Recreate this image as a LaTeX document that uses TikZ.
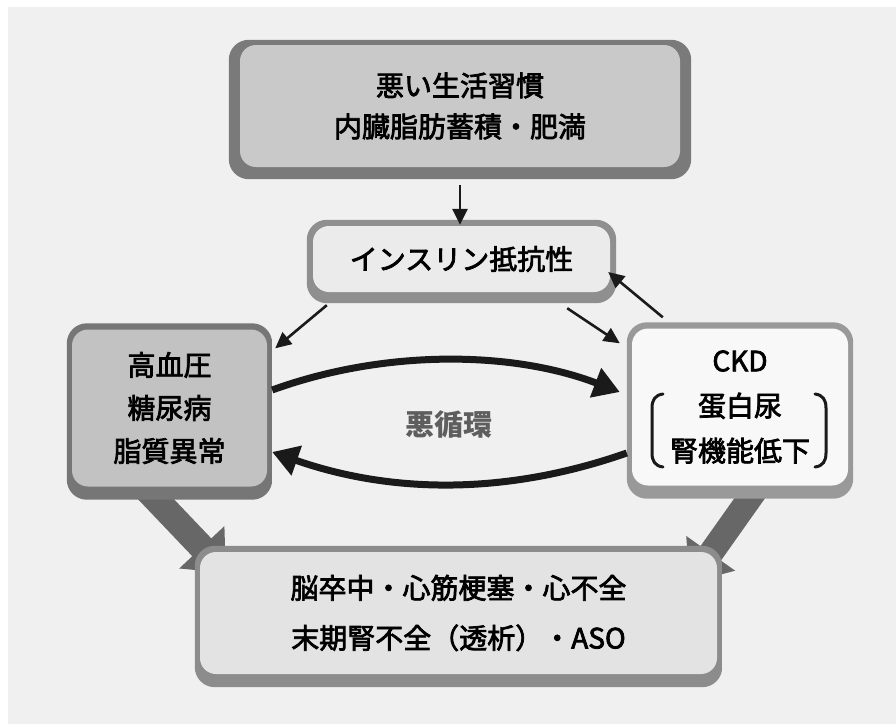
\documentclass[tikz,border=0pt]{standalone}
\usepackage{fontspec}
\newfontfamily\jp[FakeBold=2.6]{Noto Sans CJK JP}
\newfontfamily\jpb{Noto Sans CJK JP}
\usetikzlibrary{arrows.meta,calc}
\pgfdeclarelayer{bgl}\pgfdeclarelayer{arrl}\pgfdeclarelayer{edgel}
\pgfsetlayers{bgl,arrl,edgel,main}
\definecolor{bgc}{HTML}{F0F0F0}
\definecolor{arrc}{HTML}{1A1A1A}
\definecolor{bigc}{HTML}{676767}
\definecolor{vcc}{HTML}{5E5E5E}
\colorlet{kside}{gray}\colorlet{kdark}{gray}
\pgfdeclarehorizontalshading[kside,kdark]{keyh}{100bp}{color(0bp)=(kside); color(6bp)=(kdark); color(94bp)=(kdark); color(100bp)=(kside)}
% #1 node, #2 side colour, #3 dark colour, #4 side offset, #5 top offset, #6 bottom offset
\newcommand\keybase[6]{%
  \colorlet{kside}{#2}\colorlet{kdark}{#3}%
  \shade[shading=keyh, rounded corners=20pt] ([xshift=-#4pt,yshift=#5pt]#1.north west) rectangle ([xshift=#4pt,yshift=-#6pt]#1.south east);}
\tikzset{
  face/.style={rounded corners=16pt, inner sep=0pt, align=center, font=\jp\fontsize{28}{41}\selectfont},
  thinarr/.style={draw=arrc, line width=2.6pt, -{Triangle[length=16pt 0 0,width=15pt 0 0]}},
  cyclearr/.style={draw=arrc, line width=7pt, -{Triangle[length=26pt 0 0,width=30pt 0 0]}},
  bigarr/.style={fill=bigc},
  brk/.style={draw=arrc, line width=3pt, line cap=round}
}
\begin{document}
\begin{tikzpicture}[x=1pt,y=-1pt]
\useasboundingbox (0,0) rectangle (896,724);
\begin{pgfonlayer}{bgl}
  \fill[white] (0,0) rectangle (896,724);
  \fill[bgc] (8,7) rectangle (896,724);
\end{pgfonlayer}

% boxes (faces)
\node[face, fill={rgb,255:red,201;green,201;blue,201}, minimum width=440pt, minimum height=122pt] (top) at (460,106)
  {悪い生活習慣\\内臓脂肪蓄積・肥満};
\node[face, fill={rgb,255:red,235;green,235;blue,235}, minimum width=297pt, minimum height=66pt] (ins) at (461.5,259)
  {インスリン抵抗性};
\node[face, fill={rgb,255:red,194;green,194;blue,194}, minimum width=195pt, minimum height=157pt, font=\jp\fontsize{28}{43}\selectfont] (lft) at (169.5,408)
  {高血圧\\糖尿病\\脂質異常};
\node[face, fill={rgb,255:red,248;green,248;blue,248}, minimum width=216pt, minimum height=157pt, font=\jp\fontsize{28}{45}\selectfont] (rgt) at (740,407)
  {CKD\\蛋白尿\\腎機能低下};
\node[face, fill={rgb,255:red,227;green,227;blue,227}, minimum width=517pt, minimum height=122pt, font=\jp\fontsize{28}{50}\selectfont] (bot) at (458.5,613)
  {脳卒中・心筋梗塞・心不全\\末期腎不全（透析）・ASO};
\node[font=\jpb\bfseries\fontsize{29}{29}\selectfont, text=vcc] (vc) at (449,424) {悪循環};

% key-cap edges
\begin{pgfonlayer}{edgel}
  \keybase{top}{rgb,255:red,171;green,171;blue,171}{rgb,255:red,122;green,122;blue,122}{11}{5}{12}
  \keybase{ins}{rgb,255:red,200;green,200;blue,200}{rgb,255:red,143;green,143;blue,143}{6}{6}{11}
  \keybase{lft}{rgb,255:red,165;green,165;blue,165}{rgb,255:red,118;green,118;blue,118}{5}{6}{13}
  \keybase{rgt}{rgb,255:red,213;green,213;blue,213}{rgb,255:red,153;green,153;blue,153}{5}{6}{13}
  \keybase{bot}{rgb,255:red,197;green,197;blue,197}{rgb,255:red,140;green,140;blue,140}{5}{6}{13}
\end{pgfonlayer}

% big grey arrows (behind the boxes), from lft / rgt into bot
\begin{pgfonlayer}{arrl}
  \fill[bigarr] ($(lft.south)+(-12.8,-5.6)$) -- ($(bot.north west)+(11.5,-13.4)$) -- ($(bot.north west)+(24.6,-25.7)$)
    -- ($(bot.north west)+(26,21)$) -- ($(bot.north west)+(-20.6,16.7)$) -- ($(bot.north west)+(-7.5,4.4)$)
    -- ($(lft.south)+(-31.8,12.2)$) -- cycle;
  \fill[bigarr] ($(rgt.south)+(27.1,9.6)$) -- ($(bot.north east)+(3.7,8.8)$) -- ($(bot.north east)+(18,18.9)$)
    -- ($(bot.north east)+(-27.4,30.8)$) -- ($(bot.north east)+(-31,-15.9)$) -- ($(bot.north east)+(-16.7,-5.7)$)
    -- ($(rgt.south)+(6.7,-4.9)$) -- cycle;
\end{pgfonlayer}

% thin arrows
\draw[thinarr, shorten <=18pt, shorten >=1pt] (top.south) -- (top.south |- ins.north);
\draw[thinarr] ($(ins.south west)+(14,13)$) -- ($(lft.north east)+(8,19)$);
\draw[thinarr] ($(ins.south east)+(-43,16)$) -- ($(rgt.north west)+(-12,15)$);
\draw[thinarr] ($(rgt.north west)+(31,-11)$) -- ($(ins.east)+(-2,13)$);

% vicious cycle
\draw[cyclearr] ($(lft.east)+(5,-18)$) .. controls +(110,-40) and +(-110,-42) .. ($(rgt.west)+(-12,-15)$);
\draw[cyclearr] ($(rgt.west)+(-5,46)$) .. controls +(-120,42) and +(120,42) .. ($(lft.east)+(5,44)$);

% brackets around the CKD lines
\draw[brk] (663,394) .. controls (655,395) and (652,400) .. (652,408) -- (652,453) .. controls (652,461) and (655,466) .. (663,467);
\draw[brk] (815,394) .. controls (823,395) and (826,400) .. (826,408) -- (826,453) .. controls (826,461) and (823,466) .. (815,467);
\end{tikzpicture}
\end{document}
